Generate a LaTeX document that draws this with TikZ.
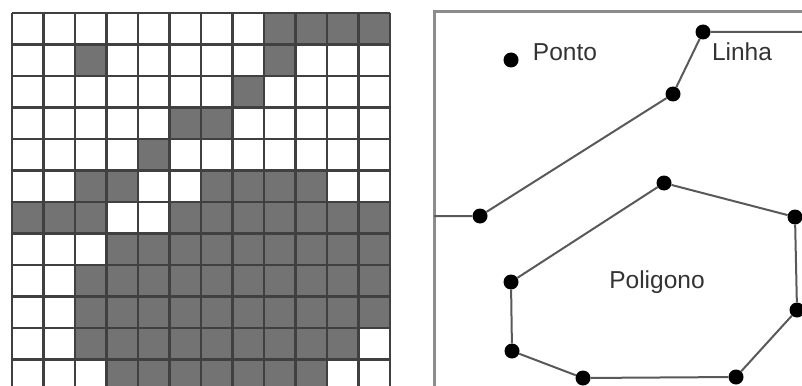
\documentclass[tikz,border=0pt]{standalone}
\usepackage{fontspec}
\setmainfont{Liberation Sans}
\begin{document}
\begin{tikzpicture}[x=1pt,y=-1pt,
  cellfill/.style={fill=black!55},
  gridline/.style={draw=black!75,line width=2.2pt},
  frameline/.style={draw=black!45,line width=3pt},
  edge/.style={draw=black!65,line width=2pt},
  dot/.style={circle,fill=black,inner sep=0pt,minimum size=15pt},
  lbl/.style={text=black!80,font=\fontsize{24.5}{29}\selectfont,inner sep=0pt}]
\useasboundingbox (0,0) rectangle (802,385);
\clip (0,0) rectangle (802,385);
% raster grid
\def\cw{31.5}
\foreach \r/\c in {1/9,1/10,1/11,1/12,
  2/3,2/9,
  3/8,
  4/6,4/7,
  5/5,
  6/3,6/4,6/7,6/8,6/9,6/10,
  7/1,7/2,7/3,7/6,7/7,7/8,7/9,7/10,7/11,7/12,
  8/4,8/5,8/6,8/7,8/8,8/9,8/10,8/11,8/12,
  9/3,9/4,9/5,9/6,9/7,9/8,9/9,9/10,9/11,9/12,
  10/3,10/4,10/5,10/6,10/7,10/8,10/9,10/10,10/11,10/12,
  11/3,11/4,11/5,11/6,11/7,11/8,11/9,11/10,11/11,
  12/4,12/5,12/6,12/7,12/8,12/9,12/10}
  \fill[cellfill] ({12+(\c-1)*\cw},{13+(\r-1)*\cw}) rectangle +(\cw,\cw);
\foreach \i in {0,...,12}{
  \draw[gridline] ({12+\i*\cw},13) -- ({12+\i*\cw},{13+12*\cw});
  \draw[gridline] (12,{13+\i*\cw}) -- ({12+12*\cw},{13+\i*\cw});
}
% vector panel
\coordinate (fb) at (434,390);
\coordinate (ftl) at (434,12);
\coordinate (ftr) at (806,12);
\draw[frameline] (fb) -- (ftl) -- (ftr);
\node[dot] (p) at (511,60) {};
\node[lbl] (pl) at (565,52) {Ponto};
\node[dot] (l1) at (703,32) {};
\node[dot] (l2) at (673,94) {};
\node[dot] (l3) at (480,216) {};
\coordinate (le) at (806,32);
\coordinate (ls) at (434,216);
\draw[edge] (le) -- (l1) -- (l2) -- (l3) -- (ls);
\node[lbl] (ll) at (742,52) {Linha};
\node[dot] (a) at (664,183) {};
\node[dot] (b) at (795,217) {};
\node[dot] (c) at (797,310) {};
\node[dot] (d) at (736,377) {};
\node[dot] (e) at (583,378) {};
\node[dot] (f) at (512,351) {};
\node[dot] (g) at (511,282) {};
\draw[edge] (a) -- (b) -- (c) -- (d) -- (e) -- (f) -- (g) -- (a);
\node[lbl] (pg) at (657,282) {Poligono};
\end{tikzpicture}
\end{document}
